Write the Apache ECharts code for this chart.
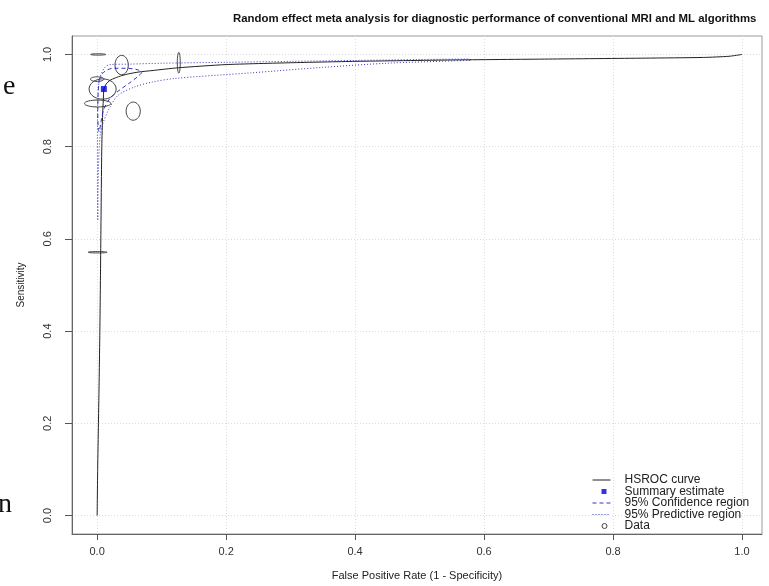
<!DOCTYPE html>
<html>
<head>
<meta charset="utf-8">
<title>HSROC</title>
<script src="https://cdn.jsdelivr.net/npm/echarts@6/dist/echarts.min.js"></script>
<style>
  html, body { margin: 0; padding: 0; background: #fff; }
  #main { width: 769px; height: 586px; }
</style>
</head>
<body>
<div id="main"></div>
<script>
// tick values on both axes
var tickValues = [0, 0.2, 0.4, 0.6, 0.8, 1.0];

// HSROC curve (fpr, sensitivity)
var hsrocFpr  = [0, 0.0008, 0.002, 0.0032, 0.0042, 0.005, 0.0057, 0.0064, 0.0072, 0.0085, 0.0095, 0.0105, 0.014, 0.02, 0.028, 0.038, 0.049, 0.065, 0.085, 0.125, 0.2, 0.3, 0.4, 0.55, 0.7, 0.85, 0.94, 0.98, 1.0];
var hsrocSens = [0, 0.1, 0.2, 0.3, 0.4, 0.5, 0.6, 0.7, 0.8, 0.87, 0.9, 0.925, 0.936, 0.944, 0.949, 0.954, 0.958, 0.962, 0.965, 0.971, 0.978, 0.982, 0.985, 0.988, 0.990, 0.992, 0.9935, 0.996, 1.0];

// summary estimate
var summaryFpr = 0.0104;
var summarySens = 0.925;

// 95% confidence region outline
var confFpr  = [0.003, 0.008, 0.015, 0.025, 0.045, 0.062, 0.069, 0.063, 0.05, 0.036, 0.02, 0.01, 0.0055, 0.003, 0.0015, 0.001, 0.0015, 0.003];
var confSens = [0.944, 0.958, 0.966, 0.970, 0.970, 0.967, 0.961, 0.952, 0.938, 0.924, 0.905, 0.880, 0.85, 0.832, 0.845, 0.88, 0.915, 0.944];

// 95% predictive region outline
var predFpr  = [0.001, 0.0004, 0.0004, 0.0008, 0.002, 0.0047, 0.012, 0.02, 0.05, 0.1, 0.2, 0.3, 0.4, 0.5, 0.575, 0.58, 0.55, 0.45, 0.35, 0.238, 0.121, 0.085, 0.059, 0.033, 0.02, 0.0098, 0.0047, 0.002, 0.001];
var predSens = [0.642, 0.72, 0.82, 0.89, 0.93, 0.951, 0.972, 0.978, 0.979, 0.981, 0.983, 0.985, 0.987, 0.989, 0.99, 0.988, 0.986, 0.981, 0.972, 0.96, 0.948, 0.94, 0.93, 0.912, 0.886, 0.854, 0.825, 0.75, 0.642];

// study data: centre and ellipse half-axes (data units)
var studyFpr  = [0.0016, 0.038, 0.1266, 0.0, 0.0085, 0.0008, 0.0559, 0.0008];
var studySens = [1.0, 0.977, 0.982, 0.9465, 0.925, 0.8936, 0.877, 0.571];
var studyRx   = [0.0117, 0.0103, 0.0023, 0.0105, 0.021, 0.0205, 0.011, 0.0147];
var studyRy   = [0.0015, 0.021, 0.0226, 0.005, 0.022, 0.0075, 0.0197, 0.0015];

function pairs(xs, ys) {
    return xs.map(function (x, i) { return [x, ys[i]]; });
}

var blue = '#3434c4';
var font = '"Liberation Sans", Arial, sans-serif';
// hides the marker that line series put in their legend icon
var noMarker = { color: 'rgba(0,0,0,0)', borderColor: 'rgba(0,0,0,0)', borderWidth: 0 };

var myChart = echarts.init(document.getElementById('main'));

var option = {
    animation: false,
    backgroundColor: '#fff',
    title: {
        text: 'Random effect meta analysis for diagnostic performance of conventional MRI and ML algorithms',
        left: 228,
        top: 8,
        textStyle: { fontFamily: font, fontSize: 11.4, fontWeight: 'bold', color: '#111' }
    },
    graphic: [
        { type: 'text', x: 3, y: 73, style: { text: 'e', font: '28px "Liberation Serif", serif', fill: '#111' } },
        { type: 'text', x: -2, y: 491, style: { text: 'n', font: '28px "Liberation Serif", serif', fill: '#111' } }
    ],
    grid: {
        left: 72, right: 7, top: 36, bottom: 49,
        show: true, borderColor: '#999', borderWidth: 1
    },
    legend: {
        orient: 'vertical',
        left: 592,
        top: 474,
        itemWidth: 18,
        itemHeight: 10,
        itemGap: -0.5,
        padding: 0,
        lineStyle: { width: 1 },
        textStyle: { fontFamily: font, fontSize: 12, color: '#222', padding: [0, 0, 0, 9] },
        data: [
            { name: 'HSROC curve', itemStyle: noMarker },
            { name: 'Summary estimate', icon: 'path://M0,0M18,10M9,2.5h5v5h-5z' },
            { name: '95% Confidence region', itemStyle: noMarker },
            { name: '95% Predictive region', itemStyle: noMarker },
            { name: 'Data', icon: 'path://M0,0M18,10M9.5,5a2.5,2.5 0 1 0 5,0a2.5,2.5 0 1 0 -5,0',
              itemStyle: { color: 'transparent', borderColor: '#444', borderWidth: 1 } }
        ]
    },
    xAxis: {
        type: 'value',
        min: -0.039,
        max: 1.031,
        name: 'False Positive Rate (1 - Specificity)',
        nameLocation: 'middle',
        nameGap: 36,
        nameTextStyle: { fontFamily: font, fontSize: 11, color: '#222' },
        axisLine: { show: true, onZero: false, lineStyle: { color: '#666' } },
        axisTick: { show: true, customValues: tickValues, length: 6, lineStyle: { color: '#555' } },
        axisLabel: {
            customValues: tickValues, margin: 12,
            fontFamily: font, fontSize: 11, color: '#333',
            formatter: function (v) { return v.toFixed(1); }
        },
        splitLine: { show: true, lineStyle: { color: '#ddd', type: [1, 2] } }
    },
    yAxis: {
        type: 'value',
        min: -0.04,
        max: 1.04,
        name: 'Sensitivity',
        nameLocation: 'middle',
        nameGap: 46,
        nameTextStyle: { fontFamily: font, fontSize: 10, color: '#222' },
        axisLine: { show: true, onZero: false, lineStyle: { color: '#666' } },
        axisTick: { show: true, customValues: tickValues, length: 7, lineStyle: { color: '#555' } },
        axisLabel: {
            customValues: tickValues, margin: 19, rotate: 90,
            fontFamily: font, fontSize: 11, color: '#333',
            formatter: function (v) { return v.toFixed(1); }
        },
        splitLine: { show: true, lineStyle: { color: '#ddd', type: [1, 2] } }
    },
    series: [
        {
            name: 'Data',
            type: 'custom',
            itemStyle: { color: '#444' },
            data: studyFpr.map(function (x, i) { return [x, studySens[i], studyRx[i], studyRy[i]]; }),
            encode: { x: 0, y: 1 },
            renderItem: function (params, api) {
                var c = api.coord([api.value(0), api.value(1)]);
                var s = api.size([api.value(2), api.value(3)]);
                return {
                    type: 'ellipse',
                    shape: { cx: c[0], cy: c[1], rx: s[0], ry: Math.max(s[1], 0.6) },
                    style: { fill: 'none', stroke: '#444', lineWidth: 1 }
                };
            },
            z: 2
        },
        {
            name: 'HSROC curve',
            type: 'line',
            data: pairs(hsrocFpr, hsrocSens),
            showSymbol: false,
            symbol: 'none',
            smooth: 0.2,
            lineStyle: { color: '#222', width: 1 },
            itemStyle: { color: '#222' },
            z: 3
        },
        {
            name: '95% Confidence region',
            type: 'line',
            data: pairs(confFpr, confSens),
            symbol: 'none',
            smooth: 0.3,
            lineStyle: { color: blue, width: 1, type: [4, 3] },
            itemStyle: { color: blue },
            z: 4
        },
        {
            name: '95% Predictive region',
            type: 'line',
            data: pairs(predFpr, predSens),
            symbol: 'none',
            smooth: 0.3,
            lineStyle: { color: blue, width: 1, type: [1, 2] },
            itemStyle: { color: blue },
            z: 4
        },
        {
            name: 'Summary estimate',
            type: 'scatter',
            data: [[summaryFpr, summarySens]],
            symbol: 'rect',
            symbolSize: 6,
            itemStyle: { color: '#0000dd' },
            z: 5
        }
    ]
};

myChart.setOption(option);
</script>
</body>
</html>
